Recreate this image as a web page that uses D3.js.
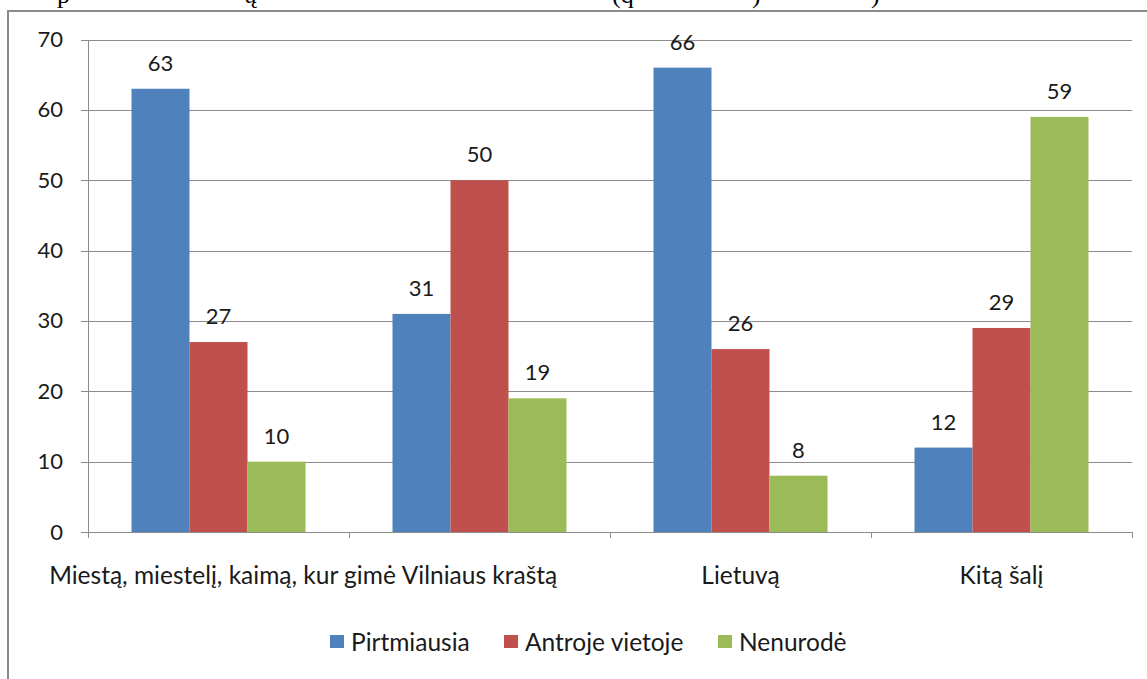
<!DOCTYPE html>
<html><head><meta charset="utf-8">
<script src="https://cdn.jsdelivr.net/npm/d3@7"></script>
<style>
html,body{margin:0;padding:0;background:#fff;}
svg{display:block;}
</style></head>
<body>
<svg id="chart" width="1147" height="679"></svg>
<script>
const categories = ["Miestą, miestelį, kaimą, kur gimė", "Vilniaus kraštą", "Lietuvą", "Kitą šalį"];
const seriesNames = ["Pirtmiausia", "Antroje vietoje", "Nenurodė"];
const pirmiausia = [63, 31, 66, 12];
const antroje = [27, 50, 26, 29];
const nenurode = [10, 19, 8, 59];
const yTicks = [0, 10, 20, 30, 40, 50, 60, 70];
const colors = ["#4F81BD", "#C0504D", "#9BBB59"];
const seriesValues = [pirmiausia, antroje, nenurode];

const svg = d3.select("#chart");
const font = "Lato, 'Open Sans', sans-serif";
const textColor = "#1a1a1a";

// cut-off caption line above the frame
const captionBits = [["p", 57], ["ą", 245], ["(q", 612], [")", 752], [")", 871]];
svg.selectAll("text.cap").data(captionBits).enter().append("text")
  .attr("class", "cap")
  .attr("x", d => d[1]).attr("y", 3)
  .attr("font-family", "'Liberation Serif', serif").attr("font-size", 26)
  .attr("fill", "#000").text(d => d[0]);

// frame
svg.append("rect").attr("x", 8).attr("y", 11).attr("width", 1160).attr("height", 700)
  .attr("fill", "#fff").attr("stroke", "#8a8a8a").attr("stroke-width", 2);

const x0 = d3.scaleBand().domain(categories).range([88, 1132]).paddingInner(0).paddingOuter(0);
const x1 = d3.scaleBand().domain(seriesNames).range([0, x0.bandwidth()]).paddingInner(0).paddingOuter(0.75);
const y = d3.scaleLinear().domain([0, 70]).range([532, 39.5]);

// gridlines
svg.append("g").selectAll("line").data(yTicks).enter().append("line")
  .attr("x1", 81).attr("x2", 1132)
  .attr("y1", d => Math.round(y(d)) + 0.5).attr("y2", d => Math.round(y(d)) + 0.5)
  .attr("stroke", "#8c8c8c").attr("stroke-width", 1);

// y axis
const yAxis = d3.axisLeft(y).tickValues(yTicks).tickSize(0).tickPadding(0);
const gy = svg.append("g").attr("transform", "translate(88,0)").call(yAxis);
gy.select(".domain").attr("stroke", "#8c8c8c");
gy.selectAll("text").attr("x", -25).attr("font-family", font).attr("font-size", 22).attr("fill", textColor);

// bars
const groups = svg.append("g").selectAll("g").data(categories).enter().append("g")
  .attr("transform", d => `translate(${x0(d)},0)`);
groups.selectAll("rect").data((c, i) => seriesNames.map((s, j) => ({s, v: seriesValues[j][i], j})))
  .enter().append("rect")
  .attr("x", d => x1(d.s)).attr("width", x1.bandwidth())
  .attr("y", d => y(d.v)).attr("height", d => y(0) - y(d.v))
  .attr("fill", d => colors[d.j]);
groups.selectAll("text").data((c, i) => seriesNames.map((s, j) => ({s, v: seriesValues[j][i], j})))
  .enter().append("text")
  .attr("x", d => x1(d.s) + x1.bandwidth() / 2).attr("y", d => y(d.v) - 18)
  .attr("text-anchor", "middle").attr("font-family", font).attr("font-size", 22).attr("fill", textColor)
  .text(d => d.v);

// x axis
const xAxis = d3.axisBottom(x0).tickSize(0).tickPadding(0);
const gx = svg.append("g").attr("transform", "translate(0,532.5)").call(xAxis);
gx.select(".domain").remove();
gx.selectAll("text").remove();
svg.append("line").attr("x1", 88).attr("x2", 1132).attr("y1", 532.5).attr("y2", 532.5).attr("stroke", "#8c8c8c");
const bounds = categories.map(c => x0(c)).concat([x0(categories[categories.length - 1]) + x0.bandwidth()]);
svg.append("g").selectAll("line").data(bounds).enter().append("line")
  .attr("x1", d => Math.round(d) + 0.5).attr("x2", d => Math.round(d) + 0.5)
  .attr("y1", 532).attr("y2", 538).attr("stroke", "#8c8c8c");
svg.append("g").selectAll("text").data(categories).enter().append("text")
  .attr("x", d => x0(d) + x0.bandwidth() / 2 + (d === categories[0] ? 4 : 0)).attr("y", 584)
  .attr("text-anchor", "middle").attr("font-family", font).attr("font-size", 24.5).attr("fill", textColor)
  .text(d => d);

// legend
const legendX = [330, 504, 718];
const lg = svg.append("g").selectAll("g").data(seriesNames).enter().append("g")
  .attr("transform", (d, i) => `translate(${legendX[i]},635)`);
lg.append("rect").attr("width", 14).attr("height", 13).attr("fill", (d, i) => colors[i]);
lg.append("text").attr("x", 21).attr("y", 16).attr("font-family", font).attr("font-size", 24.5)
  .attr("fill", textColor).text(d => d);
</script>
</body></html>
